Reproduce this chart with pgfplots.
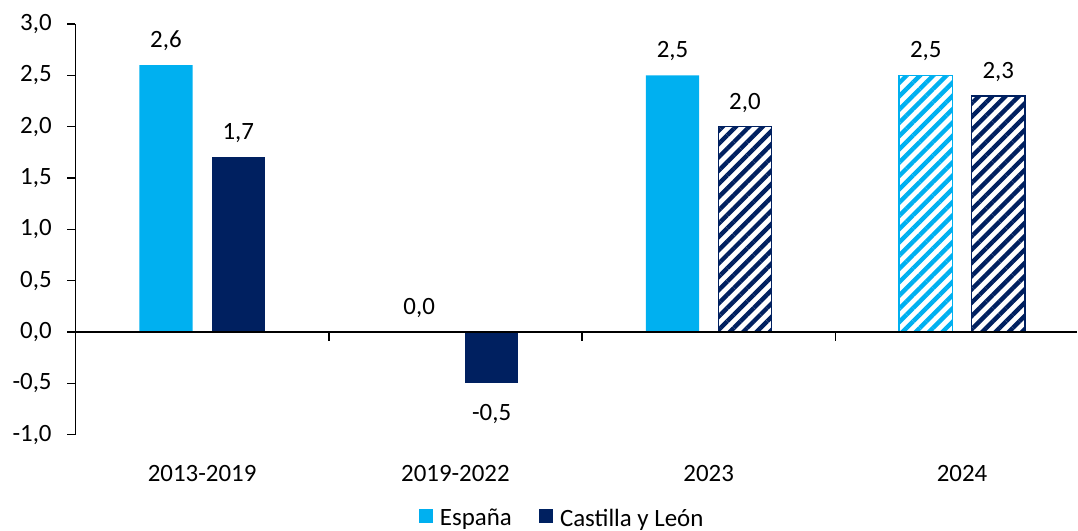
\documentclass[border=0pt]{standalone}
\usepackage{pgfplots}
\pgfplotsset{compat=1.18}
\usepackage{fontspec}
\setmainfont{Carlito}
\usetikzlibrary{patterns.meta}
\definecolor{spain}{RGB}{0,176,240}
\definecolor{cyl}{RGB}{0,32,96}
\newcommand{\chartfont}{\fontsize{12.5}{15}\selectfont}
\begin{document}
\begin{tikzpicture}
\begin{axis}[
  x=126.75bp, y=51.375bp,
  xmin=-0.5, xmax=3.455, ymin=-1, ymax=3,
  axis lines*=left,
  x axis line style={draw=none},
  axis line style={line width=0.75bp, black},
  ybar, bar width=0.21,
  xtick={0,1,2,3},
  xticklabels={2013-2019,2019-2022,2023,2024},
  x tick style={draw=none},
  ytick={-1,-0.5,0,0.5,1,1.5,2,2.5,3},
  y tick style={line width=0.75bp, black},
  tick align=outside,
  major tick length=4bp,
  /pgf/number format/.cd, use comma, fixed, fixed zerofill, precision=1, assume math mode=true,
  /pgfplots/.cd,
  tick label style={font=\chartfont},
  xticklabel style={anchor=base, inner sep=0pt, yshift=-19.6bp},
  yticklabel style={anchor=east, inner sep=0pt, xshift=-7.75bp},
  nodes near coords,
  nodes near coords style={font=\chartfont, inner sep=0pt, anchor=base, yshift=8.8bp},
  legend style={at={(0.485,-0.2056)}, anchor=center, draw=none, fill=none,
    legend columns=2, font=\chartfont, inner sep=0pt,
    nodes={inner sep=0pt},
    /tikz/every odd column/.append style={column sep=3.35bp},
    /tikz/every even column/.append style={column sep=13.8bp}},
  legend image code/.code={\fill[#1] (0bp,-2.2bp) rectangle (7bp,4.8bp);},
  clip=false,
]
% Spain solid
\addplot[fill=spain, draw=none, bar shift=-0.143] coordinates {(0,2.6) (1,0.0) (2,2.5)};
\addlegendentry{España}
% Castilla y Leon solid (positive)
\addplot[fill=cyl, draw=none, bar shift=0.143] coordinates {(0,1.7)};
\addlegendentry{Castilla y León}
% Castilla y Leon solid (negative)
\addplot[fill=cyl, draw=none, bar shift=0.143, forget plot,
  nodes near coords style={anchor=north, yshift=-19.3bp}] coordinates {(1,-0.5)};
% Castilla hatched
\addplot[draw=cyl, line width=0.75bp, preaction={fill=white},
  pattern={Lines[angle=45,distance=4.7bp,line width=2.2bp]}, pattern color=cyl,
  bar shift=0.143, forget plot] coordinates {(2,2.0) (3,2.3)};
% Spain hatched
\addplot[draw=spain, line width=0.75bp, preaction={fill=white},
  pattern={Lines[angle=45,distance=4.7bp,line width=2.2bp]}, pattern color=spain,
  bar shift=-0.143, forget plot] coordinates {(3,2.5)};
% zero line and category separators
\draw[line width=0.75bp, black] (axis cs:-0.5,0) -- (axis cs:3.455,0);
\draw[line width=0.75bp, black] (axis cs:0.5,0) -- ([yshift=-4.5bp]axis cs:0.5,0);
\draw[line width=0.75bp, black] (axis cs:1.5,0) -- ([yshift=-4.5bp]axis cs:1.5,0);
\draw[line width=0.75bp, black] (axis cs:2.5,0) -- ([yshift=-4.5bp]axis cs:2.5,0);
\path (axis cs:-0.798,3.2336) rectangle (axis cs:3.455,-1.934);
\end{axis}
\end{tikzpicture}
\end{document}
